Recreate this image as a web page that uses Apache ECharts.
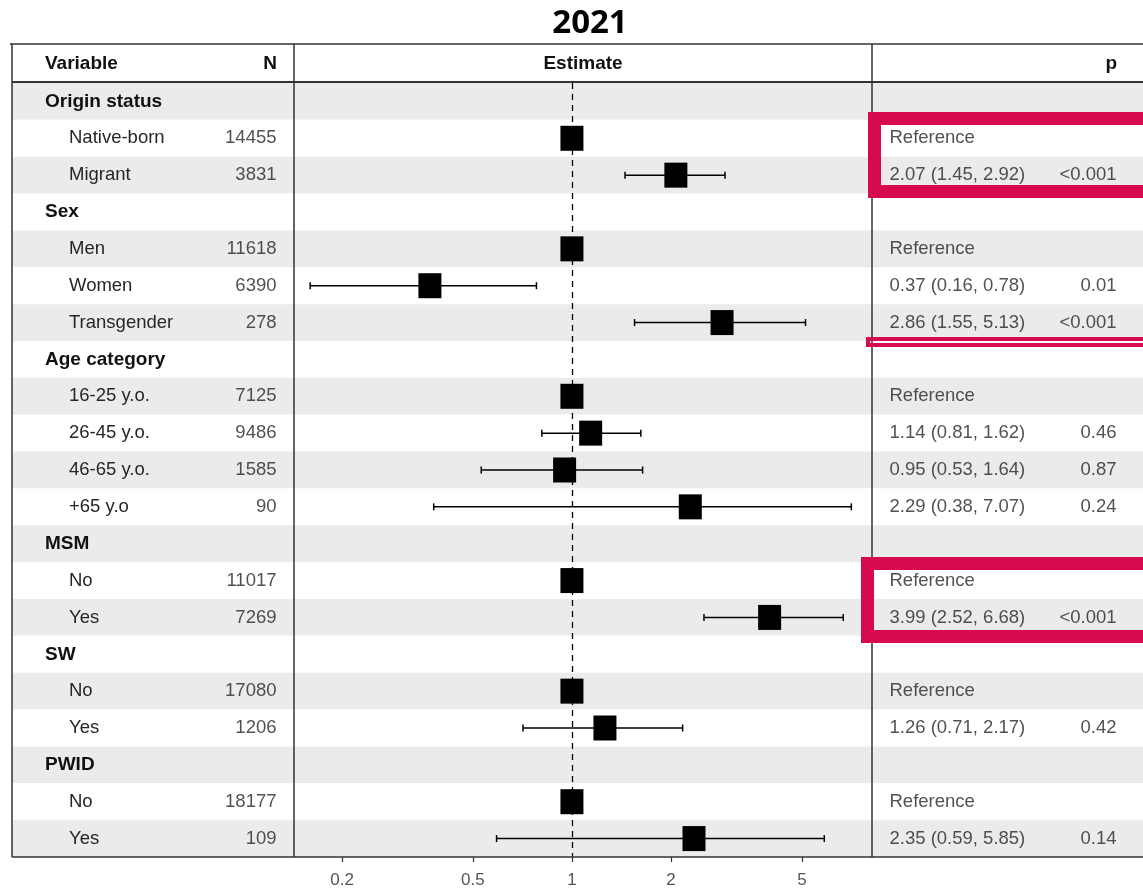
<!DOCTYPE html>
<html>
<head>
<meta charset="utf-8">
<title>2021</title>
<script src="https://cdn.jsdelivr.net/npm/echarts/dist/echarts.min.js"></script>
<style>
  html, body { margin: 0; padding: 0; background: #fff; }
  #main { width: 1143px; height: 889px; }
</style>
</head>
<body>
<div id="main"></div>
<script>
const groupNames = ['Origin status', 'Sex', 'Age category', 'MSM', 'SW', 'PWID']
const levelNames = [
  ['Native-born', 'Migrant'],
  ['Men', 'Women', 'Transgender'],
  ['16-25 y.o.', '26-45 y.o.', '46-65 y.o.', '+65 y.o'],
  ['No', 'Yes'],
  ['No', 'Yes'],
  ['No', 'Yes'],
]
const nCounts = [
  [14455, 3831],
  [11618, 6390, 278],
  [7125, 9486, 1585, 90],
  [11017, 7269],
  [17080, 1206],
  [18177, 109],
]
const estimates = [
  [1, 2.07],
  [1, 0.37, 2.86],
  [1, 1.14, 0.95, 2.29],
  [1, 3.99],
  [1, 1.26],
  [1, 2.35],
]
const ciLow = [
  [null, 1.45],
  [null, 0.16, 1.55],
  [null, 0.81, 0.53, 0.38],
  [null, 2.52],
  [null, 0.71],
  [null, 0.59],
]
const ciHigh = [
  [null, 2.92],
  [null, 0.78, 5.13],
  [null, 1.62, 1.64, 7.07],
  [null, 6.68],
  [null, 2.17],
  [null, 5.85],
]
const pValues = [
  ['', '<0.001'],
  ['', '0.01', '<0.001'],
  ['', '0.46', '0.87', '0.24'],
  ['', '<0.001'],
  ['', '0.42'],
  ['', '0.14'],
]
const xTicks = [0.2, 0.5, 1, 2, 5]

// flatten groups into table rows
const rows = []
groupNames.forEach((g, gi) => {
  rows.push({ label: g, group: true })
  levelNames[gi].forEach((name, li) => {
    rows.push({
      label: name,
      group: false,
      n: nCounts[gi][li],
      est: estimates[gi][li],
      lo: ciLow[gi][li],
      hi: ciHigh[gi][li],
      p: pValues[gi][li],
    })
  })
})

const FONT = '"Liberation Sans", Arial, sans-serif'
const TEXT = '#262626'
const RED = '#d80a4e'
const LINE = '#333'

// column anchors, in table px from the left border
const colN = 265
const colEst = 877
const colP = 1105

const squareData = []
const ciData = []
const nText = []
const estText = []
const pText = []
rows.forEach((r, i) => {
  if (r.group) return
  squareData.push([r.est, i])
  if (r.lo != null) ciData.push([r.lo, r.hi, i])
  nText.push([colN, i, String(r.n)])
  estText.push([
    colEst,
    i,
    r.lo == null
      ? 'Reference'
      : `${r.est.toFixed(2)} (${r.lo.toFixed(2)}, ${r.hi.toFixed(2)})`,
  ])
  pText.push([colP, i, r.p])
})

const textSeries = (data, position) => ({
  type: 'scatter',
  xAxisIndex: 0,
  yAxisIndex: 0,
  symbolSize: 1,
  itemStyle: { color: 'transparent' },
  silent: true,
  z: 6,
  label: {
    show: true,
    position,
    distance: 0,
    formatter: (p) => p.value[2],
    color: TEXT,
    fontFamily: FONT,
    fontSize: 18.5,
  },
  data,
})

const hLine = (x1, y, x2, w) => ({
  type: 'line',
  z: 100,
  shape: { x1, y1: y, x2, y2: y },
  style: { stroke: LINE, lineWidth: w },
})
const vLine = (x, y1, y2, w) => ({
  type: 'line',
  z: 100,
  shape: { x1: x, y1, x2: x, y2 },
  style: { stroke: LINE, lineWidth: w },
})
const headText = (x, text, align) => ({
  type: 'text',
  z: 100,
  x,
  y: 64,
  style: {
    text,
    fill: '#111',
    font: `bold 19px ${FONT}`,
    textAlign: align,
    textVerticalAlign: 'middle',
  },
})
const redBox = (x, y, h, w) => ({
  type: 'rect',
  z: 110,
  shape: { x, y, width: 400, height: h },
  style: { fill: 'none', stroke: RED, lineWidth: w },
})

const chart = echarts.init(document.getElementById('main'))
chart.setOption({
  animation: false,
  grid: [
    { left: 12, right: 0, top: 83, bottom: 32 },
    { left: 294, right: 271, top: 83, bottom: 32 },
  ],
  xAxis: [
    { type: 'value', gridIndex: 0, min: 0, max: 1131, show: false },
    {
      type: 'log',
      gridIndex: 1,
      logBase: 10,
      min: 0.1429,
      max: 8.17,
      axisLine: { show: false },
      splitLine: { show: false },
      axisTick: {
        show: true,
        customValues: xTicks,
        length: 5,
        lineStyle: { color: LINE, width: 1.2 },
      },
      axisLabel: {
        customValues: xTicks,
        color: '#555',
        fontFamily: FONT,
        fontSize: 17,
        margin: 15,
        formatter: (v) => String(+v.toPrecision(3)),
      },
    },
  ],
  yAxis: [
    {
      type: 'category',
      gridIndex: 0,
      inverse: true,
      data: rows.map((r) => r.label),
      axisLine: { show: false },
      axisTick: { show: false },
      splitLine: { show: false },
      splitArea: { show: true, areaStyle: { color: ['#ebebeb', '#ffffff'] } },
      axisLabel: {
        inside: true,
        interval: 0,
        margin: 33,
        formatter: (v, i) => (rows[i].group ? `{g|${v}}` : `{i|${v}}`),
        rich: {
          g: { fontFamily: FONT, fontWeight: 'bold', fontSize: 19, color: '#111' },
          i: { fontFamily: FONT, fontSize: 18.5, color: TEXT, padding: [0, 0, 0, 24] },
        },
      },
    },
    {
      type: 'category',
      gridIndex: 1,
      inverse: true,
      data: rows.map((r, i) => String(i)),
      show: false,
    },
  ],
  graphic: [
    {
      type: 'text',
      z: 100,
      x: 590,
      y: 24,
      style: {
        text: '2021',
        fill: '#000',
        font: 'bold 33px "Open Sans", sans-serif',
        textAlign: 'center',
        textVerticalAlign: 'middle',
      },
    },
    hLine(10, 44, 1143, 1.5),
    hLine(12, 82, 1143, 2),
    hLine(12, 857, 1143, 1.5),
    vLine(12, 44, 857, 1.5),
    vLine(294, 44, 857, 1.5),
    vLine(872, 44, 857, 1.5),
    headText(45, 'Variable', 'left'),
    headText(277, 'N', 'right'),
    headText(583, 'Estimate', 'center'),
    headText(1117, 'p', 'right'),
    redBox(874.5, 118.5, 73, 13),
    redBox(868, 339, 6, 4),
    redBox(867.5, 563.5, 73, 13),
  ],
  series: [
    {
      // dashed reference line at 1
      type: 'scatter',
      xAxisIndex: 1,
      yAxisIndex: 1,
      z: 1,
      data: [],
      markLine: {
        silent: true,
        z: 1,
        symbol: ['none', 'none'],
        label: { show: false },
        lineStyle: { color: '#000', type: [6, 5], width: 1.3, opacity: 1 },
        data: [{ xAxis: 1 }],
      },
    },
    {
      type: 'custom',
      xAxisIndex: 1,
      yAxisIndex: 1,
      z: 3,
      silent: true,
      encode: { x: [0, 1], y: 2 },
      renderItem: (params, api) => {
        const a = api.coord([api.value(0), api.value(2)])
        const b = api.coord([api.value(1), api.value(2)])
        const cap = 3.5
        const style = { stroke: '#000', lineWidth: 1.5 }
        return {
          type: 'group',
          children: [
            { type: 'line', shape: { x1: a[0], y1: a[1], x2: b[0], y2: b[1] }, style },
            { type: 'line', shape: { x1: a[0], y1: a[1] - cap, x2: a[0], y2: a[1] + cap }, style },
            { type: 'line', shape: { x1: b[0], y1: b[1] - cap, x2: b[0], y2: b[1] + cap }, style },
          ],
        }
      },
      data: ciData,
    },
    {
      type: 'scatter',
      xAxisIndex: 1,
      yAxisIndex: 1,
      z: 10,
      silent: true,
      symbol: 'rect',
      symbolSize: [23, 25],
      itemStyle: { color: '#000', opacity: 1 },
      data: squareData,
    },
    textSeries(nText, 'left'),
    textSeries(estText, 'right'),
    textSeries(pText, 'left'),
  ],
})
</script>
</body>
</html>
